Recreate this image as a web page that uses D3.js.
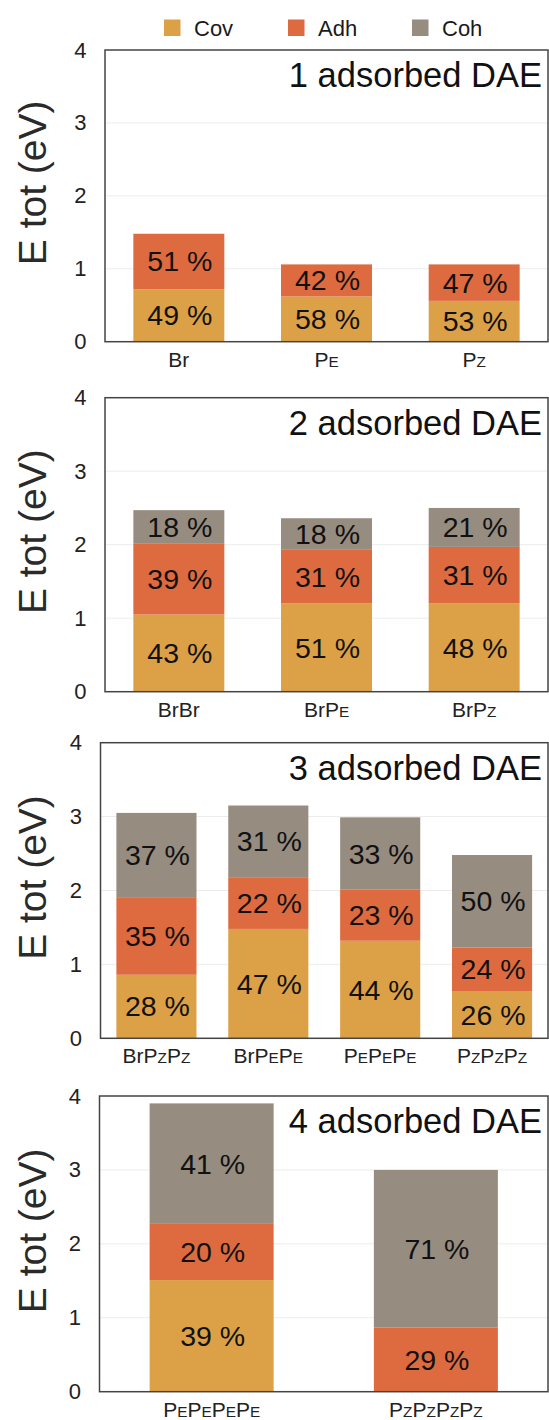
<!DOCTYPE html>
<html>
<head>
<meta charset="utf-8">
<script src="https://cdn.jsdelivr.net/npm/d3@7/dist/d3.min.js"></script>
<style>
  html, body { margin: 0; padding: 0; background: #fff; }
  svg { display: block; font-family: "Liberation Sans", Arial, Helvetica, sans-serif; }
</style>
</head>
<body>
<svg id="chart" width="549" height="1420"></svg>
<script>
// ---------------- DATA ----------------
const seriesNames = ["Cov", "Adh", "Coh"];
const yTicks = [0, 1, 2, 3, 4];
const yLabel = "E tot (eV)";

const titles = ["1 adsorbed DAE", "2 adsorbed DAE", "3 adsorbed DAE", "4 adsorbed DAE"];

// categories (capital letter after P is printed as a small capital)
const categories1 = ["Br", "PE", "PZ"];
const cov1 = [0.72, 0.62, 0.56];
const adh1 = [0.76, 0.44, 0.50];
const coh1 = [0, 0, 0];
const pctCov1 = [49, 58, 53];
const pctAdh1 = [51, 42, 47];
const pctCoh1 = [null, null, null];

const categories2 = ["BrBr", "BrPE", "BrPZ"];
const cov2 = [1.05, 1.20, 1.20];
const adh2 = [0.97, 0.73, 0.77];
const coh2 = [0.45, 0.43, 0.53];
const pctCov2 = [43, 51, 48];
const pctAdh2 = [39, 31, 31];
const pctCoh2 = [18, 18, 21];

const categories3 = ["BrPZPZ", "BrPEPE", "PEPEPE", "PZPZPZ"];
const cov3 = [0.86, 1.48, 1.32, 0.64];
const adh3 = [1.05, 0.70, 0.69, 0.59];
const coh3 = [1.14, 0.97, 0.98, 1.25];
const pctCov3 = [28, 47, 44, 26];
const pctAdh3 = [35, 22, 23, 24];
const pctCoh3 = [37, 31, 33, 50];

const categories4 = ["PEPEPEPE", "PZPZPZPZ"];
const cov4 = [1.51, 0];
const adh4 = [0.76, 0.87];
const coh4 = [1.63, 2.13];
const pctCov4 = [39, null];
const pctAdh4 = [20, 29];
const pctCoh4 = [41, 71];

// ---------------- LAYOUT / STYLE ----------------
const colors = { Cov: "#dca147", Adh: "#de6a40", Coh: "#968c80" };
const panelsData = [
  { cats: categories1, vals: [cov1, adh1, coh1], pcts: [pctCov1, pctAdh1, pctCoh1] },
  { cats: categories2, vals: [cov2, adh2, coh2], pcts: [pctCov2, pctAdh2, pctCoh2] },
  { cats: categories3, vals: [cov3, adh3, coh3], pcts: [pctCov3, pctAdh3, pctCoh3] },
  { cats: categories4, vals: [cov4, adh4, coh4], pcts: [pctCov4, pctAdh4, pctCoh4] }
];
const layout = [
  { top: 50,    bottom: 341.7,  left: 105,   pad: 0.384 },
  { top: 397.7, bottom: 691.7,  left: 105,   pad: 0.384 },
  { top: 742.7, bottom: 1038.3, left: 100.5, pad: 0.284 },
  { top: 1096,  bottom: 1391.7, left: 99.5,  pad: 0.447 }
];
const plotRight = 548;

const svg = d3.select("#chart");

// legend
const legend = svg.append("g");
seriesNames.forEach((name, i) => {
  const x = 164 + i * 124;
  legend.append("rect").attr("x", x).attr("y", 19.5).attr("width", 16.5).attr("height", 16.5)
    .attr("fill", colors[name]);
  legend.append("text").attr("x", x + 30).attr("y", 36).attr("font-size", 22)
    .attr("fill", "#1a1a1a").text(name);
});

function addCategoryLabel(sel, label) {
  const tokens = label.match(/Br|P[EZ]/g);
  tokens.forEach(t => {
    if (t === "Br") {
      sel.append("tspan").text("Br");
    } else {
      sel.append("tspan").text("P");
      sel.append("tspan").attr("font-size", "0.73em").text(t[1]);
    }
  });
}

panelsData.forEach((pd, pi) => {
  const L = layout[pi];
  const g = svg.append("g");
  const x = d3.scaleBand().domain(pd.cats).range([L.left, plotRight])
    .paddingInner(L.pad).paddingOuter(L.pad / 2);
  const y = d3.scaleLinear().domain([0, 4]).range([L.bottom, L.top]);

  // gridlines
  g.selectAll(".grid").data(yTicks.filter(t => t > 0 && t < 4)).enter().append("line")
    .attr("x1", L.left).attr("x2", plotRight)
    .attr("y1", d => y(d)).attr("y2", d => y(d))
    .attr("stroke", "#ececec").attr("stroke-width", 1);

  // stacked bars
  const rows = pd.cats.map((c, i) => {
    const r = { cat: c };
    seriesNames.forEach((s, si) => { r[s] = pd.vals[si][i]; });
    return r;
  });
  const stack = d3.stack().keys(seriesNames)(rows);
  stack.forEach((layer, si) => {
    const name = seriesNames[si];
    g.selectAll(".bar-" + name).data(layer).enter().append("rect")
      .attr("x", d => x(d.data.cat))
      .attr("width", x.bandwidth())
      .attr("y", d => y(d[1]))
      .attr("height", d => Math.max(0, y(d[0]) - y(d[1])))
      .attr("fill", colors[name]);
    layer.forEach((d, i) => {
      const p = pd.pcts[si][i];
      if (p === null || d[1] - d[0] <= 0) return;
      g.append("text")
        .attr("x", x(d.data.cat) + x.bandwidth() / 2 + 1)
        .attr("y", (y(d[0]) + y(d[1])) / 2)
        .attr("dy", "0.35em")
        .attr("text-anchor", "middle")
        .attr("font-size", 28.5)
        .attr("fill", "#111")
        .text(p + " %");
    });
  });

  // frame
  g.append("rect").attr("x", L.left).attr("y", L.top)
    .attr("width", plotRight - L.left).attr("height", L.bottom - L.top)
    .attr("fill", "none").attr("stroke", "#444").attr("stroke-width", 1.5);

  // y axis ticks (labels only)
  const yAxis = d3.axisLeft(y).tickValues(yTicks).tickSize(0).tickPadding(18.5).tickFormat(d3.format("d"));
  const ya = g.append("g").attr("transform", `translate(${L.left},0)`).call(yAxis);
  ya.select(".domain").remove();
  ya.selectAll("text").attr("font-size", 22).attr("fill", "#222")
    .attr("font-family", "'Liberation Sans', Arial, sans-serif");

  // x axis labels
  const xa = g.append("g");
  pd.cats.forEach(c => {
    const t = xa.append("text")
      .attr("x", x(c) + x.bandwidth() / 2)
      .attr("y", L.bottom + 25)
      .attr("text-anchor", "middle")
      .attr("font-size", 21)
      .attr("fill", "#222");
    addCategoryLabel(t, c);
  });

  // title
  g.append("text").attr("x", 542).attr("y", L.top + 37)
    .attr("text-anchor", "end").attr("font-size", 34.5).attr("fill", "#111")
    .text(titles[pi]);

  // y label
  g.append("text")
    .attr("transform", `translate(45.5, ${(L.top + L.bottom) / 2 - 13}) rotate(-90)`)
    .attr("text-anchor", "middle").attr("font-size", 39).attr("fill", "#2a2a2a")
    .text(yLabel);
});
</script>
</body>
</html>
